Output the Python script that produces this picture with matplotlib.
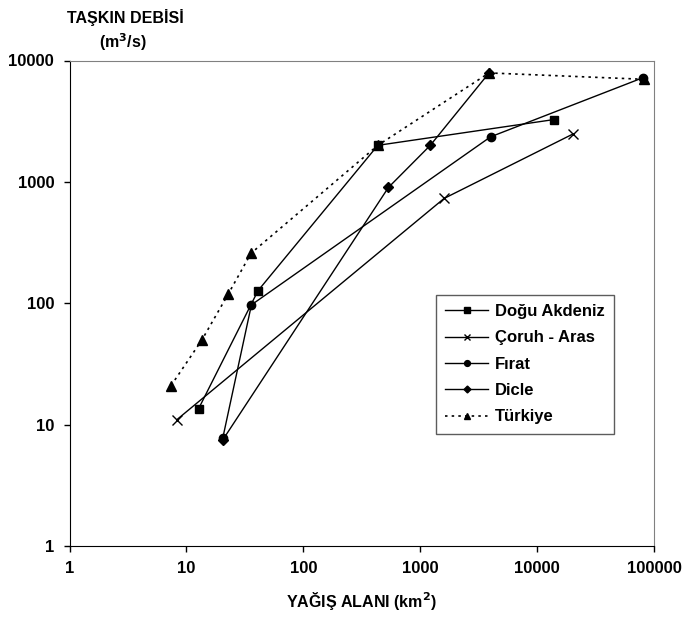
import matplotlib.pyplot as plt

plt.rcParams['font.family'] = ['Liberation Sans', 'DejaVu Sans']
plt.rcParams['font.weight'] = 'bold'

# Doğu Akdeniz
dogu_x = [12.7, 41, 434, 13900]
dogu_y = [13.5, 127, 2000, 3260]
# Çoruh - Aras
coruh_x = [8.3, 1600, 20100]
coruh_y = [11, 730, 2470]
# Fırat
firat_x = [20.5, 36, 4000, 80000]
firat_y = [7.8, 97, 2350, 7200]
# Dicle
dicle_x = [20.5, 535, 1220, 3880]
dicle_y = [7.5, 900, 2000, 7900]
# Türkiye
turk_x = [7.4, 13.6, 22.9, 35.7, 434, 3880, 82000]
turk_y = [21, 50, 120, 258, 2000, 7900, 7000]

fig = plt.figure(figsize=(6.84, 6.19), dpi=100)
# plot area in pixels: x 69.5-654, y 60.5-546
ax = fig.add_axes([69.5 / 684, 1 - 546 / 619, 584.5 / 684, 485.5 / 619])

ax.plot(dogu_x, dogu_y, color='black', lw=1, marker='s', ms=6, label='Doğu Akdeniz')
ax.plot(coruh_x, coruh_y, color='black', lw=1, marker='x', ms=7, mew=1, label='Çoruh - Aras')
ax.plot(firat_x, firat_y, color='black', lw=1, marker='o', ms=6, label='Fırat')
ax.plot(dicle_x, dicle_y, color='black', lw=1, marker='D', ms=5, label='Dicle')
ax.plot(turk_x, turk_y, color='black', lw=1.2, ls=(0, (1.5, 2.5)), marker='^', ms=7, label='Türkiye')

ax.set_xscale('log')
ax.set_yscale('log')
ax.set_xlim(1, 100000)
ax.set_ylim(1, 10000)
ax.set_xticks([1, 10, 100, 1000, 10000, 100000])
ax.set_xticklabels(['1', '10', '100', '1000', '10000', '100000'])
ax.set_yticks([1, 10, 100, 1000, 10000])
ax.set_yticklabels(['1', '10', '100', '1000', '10000'])
ax.minorticks_off()
ax.tick_params(direction='out', length=4, width=1, labelsize=12, pad=7)
for lab in ax.get_xticklabels() + ax.get_yticklabels():
    lab.set_fontweight('bold')

ax.spines['top'].set_color('#808080')
ax.spines['right'].set_color('#808080')
ax.spines['left'].set_color('black')
ax.spines['bottom'].set_color('black')

ax.set_xlabel('YAĞIŞ ALANI (km$^\\mathbf{2}$)', fontsize=11.5, fontweight='bold', labelpad=10)
fig.text(125 / 684, 1 - 18 / 619, 'TAŞKIN DEBİSİ', ha='center', va='center', fontsize=11.5, fontweight='bold')
fig.text(123 / 684, 1 - 42 / 619, '(m$^\\mathbf{3}$/s)', ha='center', va='center', fontsize=11.5, fontweight='bold')

leg = ax.legend(loc='upper left', bbox_to_anchor=(0.627, 0.517), borderaxespad=0, frameon=True,
                fancybox=False, edgecolor='#333333', fontsize=12, handlelength=2.6, handletextpad=0.4,
                borderpad=0.55, labelspacing=0.68, markerscale=0.7)
leg.get_frame().set_linewidth(1)
for t in leg.get_texts():
    t.set_fontweight('bold')

fig.savefig('out.png', dpi=100)
